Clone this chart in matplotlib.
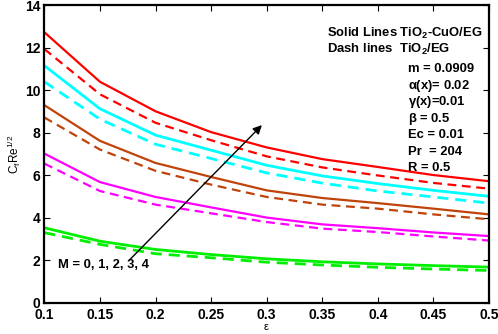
import numpy as np
import matplotlib.pyplot as plt

plt.rcParams['font.family'] = ['Liberation Sans', 'DejaVu Sans']
plt.rcParams['mathtext.fontset'] = 'custom'
plt.rcParams['mathtext.rm'] = 'Liberation Sans'
plt.rcParams['mathtext.it'] = 'Liberation Sans'
plt.rcParams['mathtext.bf'] = 'Liberation Sans:bold'

eps = [0.1, 0.15, 0.2, 0.25, 0.3, 0.35, 0.4, 0.45, 0.5]

# solid = TiO2-CuO/EG, dashed = TiO2/EG ; M = 0..4
red_solid = [12.72, 10.39, 9.0, 8.02, 7.3, 6.75, 6.38, 6.0, 5.71]
red_dash = [11.93, 9.8, 8.46, 7.64, 6.88, 6.36, 5.98, 5.63, 5.36]
cyan_solid = [11.15, 9.12, 7.88, 7.17, 6.46, 5.96, 5.6, 5.28, 5.0]
cyan_dash = [10.39, 8.63, 7.45, 6.78, 6.1, 5.62, 5.25, 4.97, 4.68]
brown_solid = [9.29, 7.61, 6.57, 5.91, 5.28, 4.92, 4.68, 4.42, 4.15]
brown_dash = [8.71, 7.2, 6.2, 5.55, 4.97, 4.61, 4.42, 4.15, 3.92]
mag_solid = [7.01, 5.67, 4.97, 4.48, 4.0, 3.68, 3.5, 3.3, 3.13]
mag_dash = [6.54, 5.25, 4.61, 4.2, 3.79, 3.48, 3.32, 3.11, 2.92]
green_solid = [3.52, 2.89, 2.5, 2.26, 2.06, 1.92, 1.82, 1.74, 1.67]
green_dash = [3.29, 2.74, 2.3, 2.11, 1.9, 1.77, 1.66, 1.58, 1.51]

pairs = [(green_solid, green_dash, '#00ee00'),
         (mag_solid, mag_dash, '#ff00ff'),
         (brown_solid, brown_dash, '#c0430a'),
         (cyan_solid, cyan_dash, '#00ffff'),
         (red_solid, red_dash, '#ff0000')]

fig = plt.figure(figsize=(4.98, 3.34), dpi=100)
ax = fig.add_axes([0.089, 0.094, 0.893, 0.891])

for s, d, c in pairs:
    lw = 1.6
    if c in ('#00ffff', '#00ee00'):
        lw = 2.0
    ax.plot(eps, s, '-', color=c, lw=lw)
    ax.plot(eps, d, '--', color=c, lw=lw, dashes=(4, 2.5))

ax.set_xlim(0.1, 0.5)
ax.set_ylim(0, 14)
ax.set_xticks(np.arange(0.1, 0.51, 0.05))
ax.set_xticklabels(['0.1', '0.15', '0.2', '0.25', '0.3', '0.35', '0.4', '0.45', '0.5'])
ax.set_yticks(range(0, 15, 2))
ax.tick_params(direction='in', top=True, right=True, length=4, width=0.8,
               labelsize=10)
ax.tick_params(axis='x', pad=4)
ax.tick_params(axis='y', pad=3)
for lab in ax.get_xticklabels() + ax.get_yticklabels():
    lab.set_fontweight('bold')
for sp in ax.spines.values():
    sp.set_linewidth(1.6)

ax.set_xlabel(r'$\epsilon$', fontsize=8, labelpad=0)
ax.set_ylabel(r'C$_f$Re$^{1/2}$', fontsize=8.5, labelpad=1)

ax.annotate('', xy=(0.2957, 8.35), xytext=(0.1765, 2.0),
            arrowprops=dict(arrowstyle='-|>', color='black', lw=1.0,
                            mutation_scale=13, shrinkA=0, shrinkB=0))
ax.text(0.1125, 1.75, 'M = 0, 1, 2, 3, 4', fontsize=9.4, fontweight='bold',
        va='center', ha='left')

ax.text(0.635, 0.905, r'Solid Lines TiO$_\mathbf{2}$-CuO/EG', transform=ax.transAxes,
        fontsize=9.4, fontweight='bold', va='center')
ax.text(0.635, 0.85, r'Dash lines  TiO$_\mathbf{2}$/EG', transform=ax.transAxes,
        fontsize=9.4, fontweight='bold', va='center')
params = ['m = 0.0909', r'$\mathbf{\alpha}$(x)= 0.02', r'$\mathbf{\gamma}$(x)=0.01',
          r'$\mathbf{\beta}$ = 0.5', 'Ec = 0.01', 'Pr  = 204', 'R = 0.5']
for i, p in enumerate(params):
    ax.text(0.818, 0.785 - i * 0.0555, p, transform=ax.transAxes,
            fontsize=9.4, fontweight='bold', va='center')

fig.savefig('out.png', dpi=100)
